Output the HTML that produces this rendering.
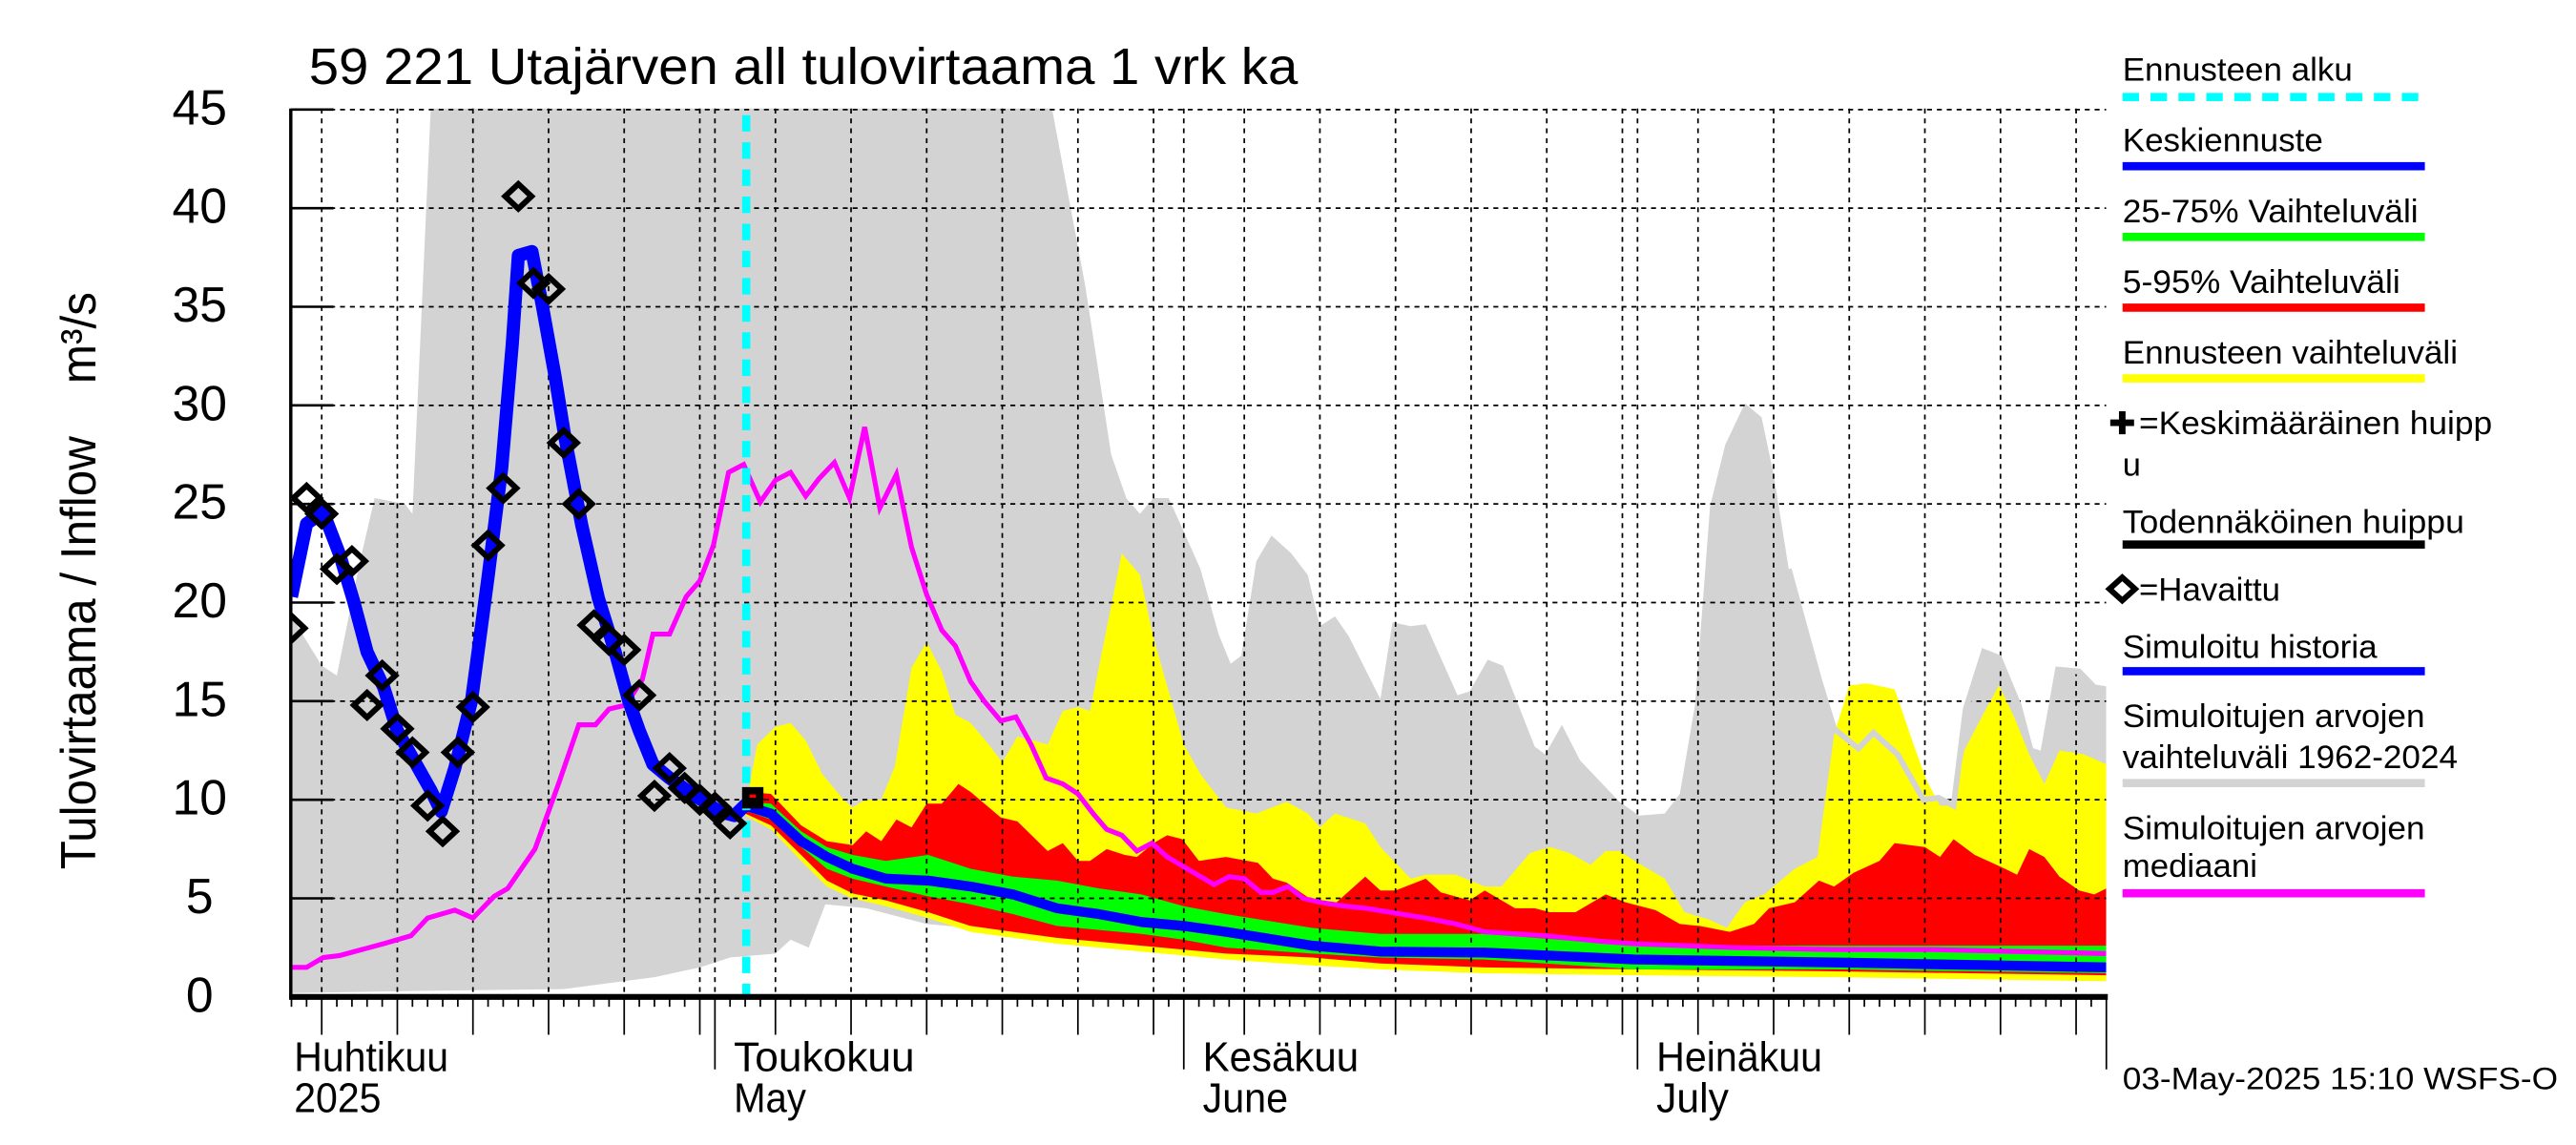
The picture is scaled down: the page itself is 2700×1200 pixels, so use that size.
<!DOCTYPE html>
<html><head><meta charset="utf-8"><title>Utajärven all tulovirtaama</title>
<style>
html,body{margin:0;padding:0;background:#fff;}
svg{display:block;}
text{font-family:"Liberation Sans",Arial,sans-serif;fill:#000;}
</style></head>
<body>
<svg id="chart" width="2700" height="1200" viewBox="0 0 1568 696" preserveAspectRatio="none" xmlns="http://www.w3.org/2000/svg">
<defs><clipPath id="plotclip"><rect x="177" y="66" width="1105" height="540"/></clipPath></defs>
<rect x="0" y="0" width="1568" height="696" fill="#fff"/>
<g id="areas" clip-path="url(#plotclip)"></g>
<g id="grid"></g>
<g id="lines" clip-path="url(#plotclip)"></g>
<g id="axes"></g>
<text x="188" y="51" font-size="31" textLength="602" lengthAdjust="spacingAndGlyphs">59 221 Utajärven all tulovirtaama 1 vrk ka</text>
<text transform="translate(58,353) rotate(-90)" text-anchor="middle" font-size="30" textLength="351" lengthAdjust="spacingAndGlyphs">Tulovirtaama / Inflow&#160;&#160;&#160;&#160;m³/s</text>
<g>
<text x="1292" y="49" font-size="20" textLength="140" lengthAdjust="spacingAndGlyphs">Ennusteen alku</text>
<line x1="1292" y1="59" x2="1476" y2="59" stroke="#00ffff" stroke-width="5" stroke-dasharray="10,7"/>
<text x="1292" y="92" font-size="20" textLength="122" lengthAdjust="spacingAndGlyphs">Keskiennuste</text>
<line x1="1292" y1="101" x2="1476" y2="101" stroke="#0000ff" stroke-width="5"/>
<text x="1292" y="135" font-size="20" textLength="180" lengthAdjust="spacingAndGlyphs">25-75% Vaihteluväli</text>
<line x1="1292" y1="144" x2="1476" y2="144" stroke="#00ff00" stroke-width="5"/>
<text x="1292" y="178" font-size="20" textLength="169" lengthAdjust="spacingAndGlyphs">5-95% Vaihteluväli</text>
<line x1="1292" y1="187" x2="1476" y2="187" stroke="#ff0000" stroke-width="5"/>
<text x="1292" y="221" font-size="20" textLength="204" lengthAdjust="spacingAndGlyphs">Ennusteen vaihteluväli</text>
<line x1="1292" y1="230" x2="1476" y2="230" stroke="#ffff00" stroke-width="5"/>
<path d="M1284.5 257 H1299 M1291.8 250 V264" stroke="#000" stroke-width="4"/>
<text x="1302" y="264" font-size="20" textLength="215" lengthAdjust="spacingAndGlyphs">=Keskimääräinen huipp</text>
<text x="1292" y="289" font-size="20">u</text>
<text x="1292" y="324" font-size="20" textLength="208" lengthAdjust="spacingAndGlyphs">Todennäköinen huippu</text>
<line x1="1292" y1="331" x2="1476" y2="331" stroke="#000" stroke-width="5"/>
<path d="M1284 358 L1291.8 351 L1299.6 358 L1291.8 365 Z" fill="none" stroke="#000" stroke-width="3.5"/>
<text x="1302" y="365" font-size="20" textLength="86" lengthAdjust="spacingAndGlyphs">=Havaittu</text>
<text x="1292" y="400" font-size="20" textLength="155" lengthAdjust="spacingAndGlyphs">Simuloitu historia</text>
<line x1="1292" y1="408" x2="1476" y2="408" stroke="#0000ff" stroke-width="5"/>
<text x="1292" y="442" font-size="20" textLength="184" lengthAdjust="spacingAndGlyphs">Simuloitujen arvojen</text>
<text x="1292" y="467" font-size="20" textLength="204" lengthAdjust="spacingAndGlyphs">vaihteluväli 1962-2024</text>
<line x1="1292" y1="476" x2="1476" y2="476" stroke="#d3d3d3" stroke-width="5"/>
<text x="1292" y="510" font-size="20" textLength="184" lengthAdjust="spacingAndGlyphs">Simuloitujen arvojen</text>
<text x="1292" y="533" font-size="20" textLength="82" lengthAdjust="spacingAndGlyphs">mediaani</text>
<line x1="1292" y1="543" x2="1476" y2="543" stroke="#ff00ff" stroke-width="5"/>
</g>
<text x="1292" y="662" font-size="19" textLength="265" lengthAdjust="spacingAndGlyphs">03-May-2025 15:10 WSFS-O</text>
<script>
// Days are counted from 1 April 2025 (day 0 = Apr 1)
const yTicks = [0,5,10,15,20,25,30,35,40,45];
const monthLabels = ["Huhtikuu","Toukokuu","Kesäkuu","Heinäkuu"];
const yearLabels = ["2025","May","June","July"];
const monthDays = [null,30,61,91];
const monthEndDay = 122;
const forecastStartDay = 32.07;

const greyUpDays = [2,4,5,6.5,7.5,9.5,10,11.5,52,52.3,54.5,56.2,57.2,58.1,59,60,61,62.1,63.3,64.1,64.8,65.8,66.8,68.1,69.2,70,71,71.9,74,74.8,76,77,79.1,79.9,81.1,82.1,84.2,84.9,86,87.2,89.8,91.1,92.8,93.8,94.8,95.8,96.8,98.1,99.2,100,101,103,104,105.6,106.6,108.2,109.9,110.9,111.9,112.7,113.9,114.9,116.2,117,117.8,118.8,120.2,121.2,122];
const greyUp = [19.3,16.8,16.3,22,25.3,25,24.5,50,50,45,36,27.5,25.3,24.5,25.3,25.3,23.6,21.7,18.4,16.9,17.3,22.1,23.4,22.5,21.4,18.8,19.3,18.3,15.1,19,18.8,18.9,15.3,15.5,17.1,16.8,12.7,12.3,13.8,12,9.9,9.2,9.3,10.3,14.8,24.9,28,30.1,29.4,26.5,21.7,16.1,13.6,12.6,13.4,12.3,10,10.1,9.7,14.6,17.5,17.2,14.8,12.5,12.3,16.6,16.5,15.7,15.6];
const greyLoDays = [2,10,20,26,29,31,34,35,36.2,37.3,40,44,52.6,61,72.3,85,100,122];
const greyLo = [0.2,0.3,0.4,1.0,1.5,2.0,2.2,2.9,2.5,4.7,4.5,3.7,3.1,2.3,1.8,1.4,1.1,0.8];

const yelUpDays = [32,32.8,34,35,36,37.1,38.5,39.1,39.9,41,41.9,43,44,45,45.9,46.9,48.1,49,50,52,53,54,54.8,56.9,58.1,59,61,62.1,63.8,65.8,67.8,69.2,70,71,73,74,76,77,79,80.9,82,83.9,85.2,86.5,87.9,88.9,89.8,90.8,92.8,94.1,95.8,96.9,98.1,99.4,100,101.4,102.9,103.5,104,105,106.2,108,109.3,110.1,111,111.9,112.6,113.9,114.9,115.9,116.9,117.9,118.9,120.5,122];
const yelUp = [9.6,12.8,13.7,13.9,13,11.3,10,9.6,10,10,11.7,16.7,18,16.5,14.3,13.9,12.8,11.9,13.2,12.8,14.5,14.7,14.5,22.5,21.4,18.2,12.8,11.3,9.6,9.3,9.9,9.3,8.6,9.3,8.8,7.6,6.0,6.2,6.2,5.6,5.6,7.3,7.6,7.3,6.7,7.4,7.4,6.9,6.0,4.3,3.9,3.5,4.8,5.2,5.6,6.5,7.1,10.5,13.3,15.8,15.9,15.6,12.7,11.0,9.7,9.7,12.5,14.4,15.8,14.2,12.3,10.8,12.5,12.3,11.8];
const redUpDays = [32,33.7,35.7,37.4,39.1,40,41,42,43,44,45,46.1,46.9,48.9,50,52,53,54,54.8,55.9,57.1,57.9,59,59.9,60.9,62,63.8,65.9,66.9,67.8,69.5,71.1,73,74,75,77,78,79.9,80.9,82.9,84.2,85.2,86.9,88.9,90.2,92.2,93.8,95.1,97.1,98.7,99.7,101.4,103,104,105.3,107,108,110,111,111.9,113.3,115.3,116.1,116.9,117.9,118.9,120.2,121.2,122];
const redUp = [10.4,10.3,8.7,7.9,7.7,8.4,7.9,9.0,8.6,9.8,9.8,10.8,10.4,9.1,8.9,7.4,7.8,6.9,6.9,7.5,7.2,7.1,7.8,8.2,8.0,6.9,7.1,6.8,6.0,5.8,4.9,4.8,6.1,5.4,5.4,6.0,5.3,4.9,5.4,4.5,4.5,4.3,4.3,5.2,4.8,4.4,3.7,3.6,3.3,3.7,4.5,4.8,5.9,5.6,6.3,6.9,7.8,7.6,7.1,8.0,7.2,6.5,6.2,7.5,7.1,6.1,5.4,5.2,5.5];

const fcDays = [32,33.7,35.7,37.4,39.1,41.3,44.1,46.9,49.7,52.6,55.4,58.2,61,63.8,69.5,74,80.9,90.8,104,122];
const greenUp = [9.9,9.8,8.4,7.6,7.2,6.9,7.2,6.5,6.1,5.9,5.5,5.2,4.6,4.2,3.5,3.2,3.2,2.6,2.6,2.6];
const greenLo = [9.45,9.0,7.6,6.5,6.0,5.6,5.1,4.7,4.2,3.6,3.4,3.2,2.9,2.5,2.2,2.0,1.9,1.4,1.4,1.2];
const blueMed = [9.7,9.3,7.9,7.1,6.5,6.0,5.9,5.6,5.2,4.5,4.2,3.8,3.6,3.3,2.6,2.3,2.25,1.9,1.75,1.5];
const redLo = [9.3,8.7,7.2,5.9,5.25,4.9,4.3,3.6,3.3,3.0,2.8,2.6,2.4,2.2,2.0,1.7,1.5,1.4,1.3,1.1];
const yelLo = [9.2,8.5,6.9,5.6,5.0,4.6,4.0,3.3,3.0,2.7,2.5,2.3,2.1,1.9,1.6,1.4,1.2,1.1,1.0,0.8];

const magDays = [2,3,4.1,5.2,8.1,9.9,11,12.8,14,15.4,16.3,18.1,19.7,21,22.1,23,24.1,25.2,25.9,27,28.1,29,29.9,30.9,31.9,33,34,35,36,36.9,37.9,38.9,39.9,40.9,42,43,44,45,45.9,46.9,47.8,48.9,49.9,50.9,51.9,53,54,55,55.9,56.9,57.9,58.9,59.9,61,63,64,65,66.1,66.9,67.9,68.9,70,71.7,73,77,79,80.9,84.9,88.9,90.8,97.4,104,110.6,122];
const magVals = [1.5,1.5,2.0,2.1,2.7,3.1,4.0,4.4,4.0,5.1,5.5,7.5,10.9,13.8,13.8,14.6,14.8,16.1,18.4,18.4,20.3,21.1,22.9,26.6,27.0,25.1,26.2,26.6,25.4,26.3,27.1,25.3,28.9,24.8,26.5,22.8,20.4,18.6,17.8,16.0,15.0,14.0,14.2,12.8,11.1,10.8,10.3,9.3,8.5,8.2,7.4,7.8,7.1,6.6,5.7,6.1,6.0,5.3,5.3,5.6,5.0,4.8,4.6,4.5,4.0,3.7,3.3,3.1,2.8,2.7,2.5,2.4,2.4,2.2];

const simDays = [2,3,4.1,5.2,6.1,7,8.1,9,10.1,11.2,11.9,12.8,13.9,15,15.9,16.6,17,17.9,18.6,19.4,20.1,21.2,22.3,23.4,24.3,25,25.9,27,28.1,29.2,30.3,31.3,32.1];
const simVals = [20.3,24.0,24.6,22.4,20.1,17.5,15.7,13.5,12.0,10.5,9.4,11.6,15.0,21.3,26.8,33.1,37.6,37.8,35.0,31.6,28.3,23.9,20.2,17.5,15.0,13.5,11.8,11.1,10.5,9.95,9.4,9.2,9.8];

const obsDays = [2,3,4,5,6,7,8,9,10,11,12,13,14,15,16,17,18,19,20,21,22,23,24,25,26,27,28,29,30,31];
const obsVals = [18.7,25.3,24.5,21.7,22.1,14.8,16.3,13.6,12.4,9.7,8.4,12.4,14.7,22.9,25.8,40.6,36.2,35.9,28.1,25.0,18.85,18.1,17.6,15.3,10.2,11.6,10.6,10.0,9.6,8.8];
const fcStartVal = 10.1;

const NS = "http://www.w3.org/2000/svg";
const X0 = 159, DX = 9.206, Y0 = 606, DY = 539.4/45;
function xs(d){ return X0 + DX*d; }
function ys(v){ return Y0 - DY*v; }
function mk(parent, tag, attrs){ const e = document.createElementNS(NS, tag); for (const k in attrs) e.setAttribute(k, attrs[k]); parent.appendChild(e); return e; }
function linePts(days, vals){ return days.map((d,i)=>xs(d).toFixed(2)+","+ys(vals[i]).toFixed(2)).join(" "); }
function bandPath(dU, vU, dL, vL){
  let p = "M" + dU.map((d,i)=>xs(d).toFixed(2)+","+ys(vU[i]).toFixed(2)).join(" L");
  for (let i=dL.length-1;i>=0;i--) p += " L"+xs(dL[i]).toFixed(2)+","+ys(vL[i]).toFixed(2);
  return p + " Z";
}
const areas = document.getElementById('areas');
const grid = document.getElementById('grid');
const lines = document.getElementById('lines');
const axes = document.getElementById('axes');

let el;
el = mk(areas,'path',{d:bandPath(greyUpDays,greyUp,greyLoDays,greyLo),fill:'#d3d3d3'});


el = mk(areas,'path',{d:bandPath(yelUpDays,yelUp,fcDays,yelLo),fill:'#ffff00'});


el = mk(areas,'path',{d:bandPath(redUpDays,redUp,fcDays,redLo),fill:'#ff0000'});


el = mk(areas,'path',{d:bandPath(fcDays,greenUp,fcDays,greenLo),fill:'#00ff00'});



// gridlines
for (const v of yTicks){
  if (v===0) continue;
  el = mk(grid,'line',{x1:177,x2:1282,y1:ys(v),y2:ys(v),stroke:'#000','stroke-width':1,'stroke-dasharray':'3,3'});
  
  
}
for (let d=4; d<=122; d++){
  let isGrid = false;
  if (d<30) isGrid = ((d+1)%5===0);
  else if (d<61) isGrid = (d===30) || ((d-30+1)%5===0);
  else if (d<91) isGrid = (d===61) || ((d-61+1)%5===0 && d-61+1<=30);
  else isGrid = (d===91) || ((d-91+1)%5===0);
  if (isGrid){
    el = mk(grid,'line',{x1:xs(d),x2:xs(d),y1:66,y2:606,stroke:'#000','stroke-width':1,'stroke-dasharray':'3,3'});
    
    
  }
}

// lines
el = mk(lines,'polyline',{points:linePts(greyUpDays.slice(50),greyUp.slice(50)),fill:'none',stroke:'#d3d3d3','stroke-width':3.5});


el = mk(lines,'polyline',{points:linePts(magDays,magVals),fill:'none',stroke:'#ff00ff','stroke-width':3});


el = mk(lines,'polyline',{points:linePts(fcDays,blueMed),fill:'none',stroke:'#0000ff','stroke-width':6,'stroke-linejoin':'round'});


el = mk(lines,'polyline',{points:linePts(simDays,simVals),fill:'none',stroke:'#0000ff','stroke-width':8,'stroke-linejoin':'round'});


el = mk(lines,'line',{x1:xs(forecastStartDay),x2:xs(forecastStartDay),y1:70,y2:606,stroke:'#00ffff','stroke-width':5,'stroke-dasharray':'10,6.5'});


obsDays.forEach((d,i)=>{
  const cx = xs(d), cy = ys(obsVals[i]);
  const p = mk(lines,'path',{d:`M${cx-8},${cy} L${cx},${cy-7.5} L${cx+8},${cy} L${cx},${cy+7.5} Z`,fill:'none',stroke:'#000','stroke-width':3.5});
  
  
});
{
  const cx = xs(32.5), cy = ys(fcStartVal);
  el = mk(lines,'rect',{x:cx-6.5,y:cy-6.5,width:13,height:13,fill:'#000'});
  
  
  el = mk(lines,'rect',{x:cx-2,y:cy-2,width:4,height:2,fill:'#ff0000'});
  
  
}

// axes
el = mk(axes,'line',{x1:177,x2:177,y1:66,y2:607,stroke:'#000','stroke-width':2});


el = mk(axes,'line',{x1:176,x2:1283,y1:606,y2:606,stroke:'#000','stroke-width':3.5});


for (const v of yTicks){
  el = mk(axes,'line',{x1:177,x2:203,y1:ys(v),y2:ys(v),stroke:'#000','stroke-width':1.5});
  
  
  el = mk(axes,'text',{x:121.5,y:ys(v)+9,'text-anchor':'middle','font-size':30});
  el.textContent = String(v);
  
  
}
for (let d=2; d<=122; d++){
  let len = 6;
  const isMonth = monthDays.indexOf(d)>=0 || d===monthEndDay;
  let isFive = false;
  if (d<30) isFive = ((d+1)%5===0);
  else if (d<61) isFive = ((d-30+1)%5===0);
  else if (d<91) isFive = ((d-61+1)%5===0);
  else isFive = ((d-91+1)%5===0);
  if (isFive) len = 23;
  if (isMonth) len = 44;
  el = mk(axes,'line',{x1:xs(d),x2:xs(d),y1:606,y2:606+len,stroke:'#000','stroke-width':1});
  
  
}
const monthX = [179, xs(30)+11.5, xs(61)+11.5, xs(91)+11.5];
const monthW = [94,110,95,101];
const yearW = [53,44,52,44];
monthLabels.forEach((m,i)=>{
  el = mk(axes,'text',{x:monthX[i],y:651,'font-size':25,textLength:monthW[i],lengthAdjust:'spacingAndGlyphs'});
  el.textContent = m;
  
  
  el = mk(axes,'text',{x:monthX[i],y:676,'font-size':25,textLength:yearW[i],lengthAdjust:'spacingAndGlyphs'});
  el.textContent = yearLabels[i];
  
  
});
</script>
</svg>
</body></html>
